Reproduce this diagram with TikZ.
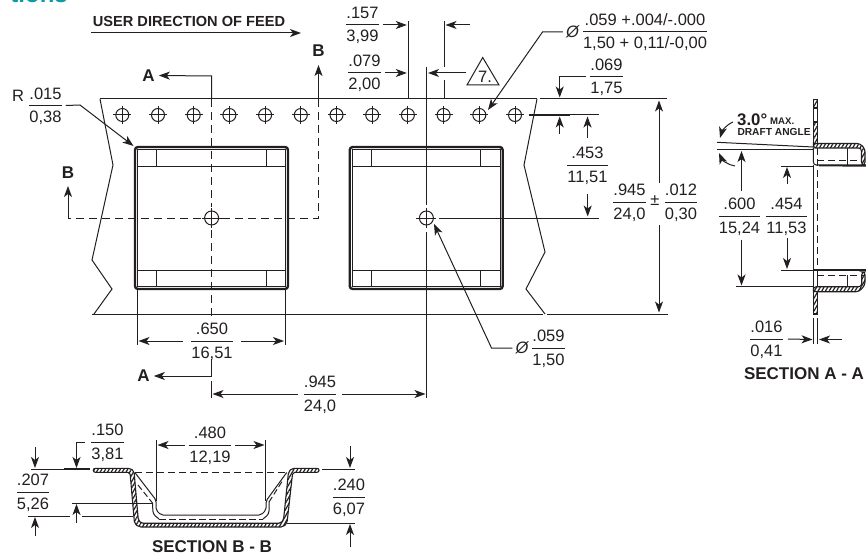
\documentclass[tikz,border=0pt]{standalone}
\usepackage{fontspec}
\setmainfont{Liberation Sans}
\usetikzlibrary{arrows.meta, patterns.meta}

\definecolor{inkline}{HTML}{231F20}
\definecolor{headteal}{HTML}{0E9AA7}
\setlength{\arrayrulewidth}{1pt}
\newcommand{\dimfrac}[2]{\begin{tabular}{@{}c@{}}\rule{0pt}{16.5pt}#1\\\hline\rule{0pt}{16.5pt}#2\end{tabular}}

\tikzset{
    dimtext/.style={inner sep=0pt, text=inkline, font=\fontsize{16.5}{19}\selectfont},
    boldtext/.style={inner sep=0pt, text=inkline, font=\fontsize{17}{19}\selectfont\bfseries},
    thinline/.style={draw=inkline, line width=1pt},
    heavyline/.style={draw=inkline, line width=2.4pt},
    dimarrow/.style={thinline, -{Stealth[length=11pt,width=8pt,inset=3pt]}},
    cutline/.style={thinline, dash pattern=on 8pt off 5pt},
    hatchwall/.style={draw=inkline, line width=1.1pt, pattern={Lines[angle=60,distance=3.2pt,line width=1.2pt]}, pattern color=inkline}
}

\begin{document}
\begin{tikzpicture}[x=1pt,y=-1pt]
    \useasboundingbox (0,0) rectangle (866,556);

    % clipped heading
    \begin{scope}
        \clip (0,0) rectangle (90,4);
        \node [anchor=base east, inner sep=0pt, text=headteal, font=\fontsize{24}{28}\selectfont\bfseries] (headfrag) at (68,3) {tions};
    \end{scope}

    % feed direction
    \node [boldtext, font=\fontsize{14.6}{18}\selectfont\bfseries] (feedtext) at (189,21) {USER DIRECTION OF FEED};
    \coordinate (feedL) at (91,33);
    \coordinate (feedR) at (301,33);
    \draw [dimarrow] (feedL) -- (feedR);

    % tape outline
    \draw [thinline] (92,314) -- (543,314);
    \draw [thinline] (100,99) -- (537,99);
    \draw [thinline] (100,99) -- (113,165) -- (92,260) -- (112,289) -- (94,314);
    \draw [thinline] (537,99) -- (524,165) -- (545,252) -- (526,289) -- (545,314);
    \draw [thinline] (540,99) -- (667,99);
    \draw [thinline] (547,314) -- (668,314);
    \draw [thinline] (570,115) -- (599,115);
    \draw [draw=inkline, line width=1.8pt] (529,115) -- (570,115);

    % sprocket holes
    \foreach \i in {0,...,11} {
        \draw [thinline] ({122.3+35.7*\i},115) circle (6.5pt);
        \draw [thinline] ({122.3+35.7*\i-9},115) -- ({122.3+35.7*\i+9},115);
        \draw [thinline] ({122.3+35.7*\i},106) -- ({122.3+35.7*\i},124);
    }

    % pockets
    \foreach \dx in {0,214.7} {
        \draw [heavyline, rounded corners=3pt] ({135+\dx},147) rectangle ({288+\dx},289);
        \draw [thinline] ({137.5+\dx},149.5) rectangle ({285.5+\dx},286.5);
        \draw [thinline] ({137.5+\dx},166) -- ({285.5+\dx},166);
        \draw [thinline] ({137.5+\dx},270) -- ({285.5+\dx},270);
        \draw [thinline] ({156.7+\dx},149.5) -- ({156.7+\dx},166);
        \draw [thinline] ({266+\dx},149.5) -- ({266+\dx},166);
        \draw [thinline] ({156.7+\dx},270) -- ({156.7+\dx},286.5);
        \draw [thinline] ({266+\dx},270) -- ({266+\dx},286.5);
    }

    % center holes
    \foreach \cx in {211.6,426.4} {
        \draw [thinline] (\cx,218) circle (7pt);
        \draw [thinline] ({\cx-10},218) -- ({\cx+10},218);
        \draw [thinline] (\cx,208) -- (\cx,228);
    }

    % section A cut
    \node [boldtext] (cutAup) at (148.5,75.5) {A};
    \node [boldtext] (cutAdn) at (143.5,376) {A};
    \coordinate (cutAtop) at (211.6,76);
    \coordinate (cutAbot) at (211.6,376);
    \draw [dimarrow] (211.6,99) -- (cutAtop) -- ([xshift=4pt]cutAup.east);
    \draw [cutline] (211.6,99) -- (211.6,207);
    \draw [cutline] (211.6,230) -- (211.6,321);
    \draw [dimarrow] (211.6,359) -- (cutAbot) -- ([xshift=4pt]cutAdn.east);
    \draw [thinline] (211.6,381) -- (211.6,398);

    % section B cut
    \node [boldtext] (cutBup) at (318.5,50.5) {B};
    \node [boldtext] (cutBlf) at (68,172.5) {B};
    \coordinate (cutBtip) at (318.5,65);
    \coordinate (cutBtipL) at (68,186);
    \coordinate (cutBcorner) at (68,218);
    \draw [dimarrow] (318.5,99) -- (cutBtip);
    \draw [cutline] (318.5,99) -- (318.5,218) -- (221,218);
    \draw [cutline] (201,218) -- (cutBcorner);
    \draw [dimarrow] (cutBcorner) -- (cutBtipL);

    % centerline
    \draw [thinline] (426.4,67) -- (426.4,205);
    \draw [thinline] (426.4,232) -- (426.4,398);
    \draw [thinline] (439,218) -- (599,218);

    % top dimensions
    \node [dimtext] (l157) at (362.5,25) {\dimfrac{.157}{3,99}};
    \node [dimtext] (l079) at (364.5,73) {\dimfrac{.079}{2,00}};
    \coordinate (e157) at (406.8,25);
    \coordinate (e157R) at (445.5,25);
    \coordinate (s157R) at (470,25);
    \coordinate (e079) at (406.8,73);
    \coordinate (e079R) at (428,73);
    \draw [thinline] (408,21) -- (408,99);
    \draw [thinline] (444,21) -- (444,67);
    \draw [thinline] (444,80) -- (444,99);
    \draw [dimarrow] ([xshift=4pt]l157.east) -- (e157);
    \draw [dimarrow] (s157R) -- (e157R);
    \draw [dimarrow] ([xshift=4pt]l079.east) -- (e079);

    % note triangle
    \coordinate (triT) at (482.7,57.5);
    \coordinate (triL) at (467,85);
    \coordinate (triR) at (499,85);
    \coordinate (triS) at (466,73);
    \draw [thinline] (triT) -- (triL) -- (triR) -- cycle;
    \node [dimtext] (noteseven) at (485,76.5) {7.};
    \draw [dimarrow] (triS) -- (e079R);

    % hole diameter
    \node [dimtext] (phiTop) at (572.5,32) {\itshape Ø};
    \node [dimtext] (lHole) at (645,32) {\dimfrac{.059 +.004/-.000}{1,50 + 0,11/-0,00}};
    \coordinate (holeBend) at (542.5,32);
    \coordinate (holeTip) at (488,110);
    \draw [dimarrow] ([xshift=-3pt]phiTop.west) -- (holeBend) -- (holeTip);

    % row dimensions
    \node [dimtext] (l069) at (606.5,77) {\dimfrac{.069}{1,75}};
    \node [dimtext] (l453) at (587.5,165) {\dimfrac{.453}{11,51}};
    \coordinate (b069) at (559.7,77);
    \coordinate (t069) at (559.7,97.5);
    \coordinate (s069u) at (559.7,134);
    \coordinate (t069u) at (559.7,116.5);
    \coordinate (s453u) at (587.5,138);
    \coordinate (t453u) at (587.5,116.5);
    \coordinate (s453d) at (587.7,194);
    \coordinate (t453d) at (587.7,216.5);
    \draw [dimarrow] ([xshift=-4pt]l069.west) -- (b069) -- (t069);
    \draw [dimarrow] (s069u) -- (t069u);
    \draw [dimarrow] (s453u) -- (t453u);
    \draw [dimarrow] (s453d) -- (t453d);

    % tape width
    \node [dimtext] (l945w) at (629.5,202) {\dimfrac{.945}{24,0}};
    \node [dimtext] (lpm) at (655,201) {±};
    \node [dimtext] (l012) at (681,202) {\dimfrac{.012}{0,30}};
    \coordinate (s945u) at (659,183);
    \coordinate (t945u) at (659,100.5);
    \coordinate (s945d) at (659,225);
    \coordinate (t945d) at (659,312.5);
    \draw [dimarrow] (s945u) -- (t945u);
    \draw [dimarrow] (s945d) -- (t945d);

    % corner radius
    \node [dimtext] (lR) at (18,95.5) {R};
    \node [dimtext] (l015) at (45.5,105.5) {\dimfrac{.015}{0,38}};
    \coordinate (rBend) at (80,105);
    \coordinate (rTip) at (133.5,146);
    \draw [dimarrow] ([xshift=4pt]l015.east) -- (rBend) -- (rTip);

    % pocket width
    \node [dimtext] (l650) at (212,341) {\dimfrac{.650}{16,51}};
    \coordinate (e650L) at (138.5,341);
    \coordinate (e650R) at (284,341);
    \draw [thinline] (137.5,289) -- (137.5,345);
    \draw [thinline] (285,289) -- (285,345);
    \draw [dimarrow] ([xshift=-8pt]l650.west) -- (e650L);
    \draw [dimarrow] ([xshift=8pt]l650.east) -- (e650R);

    % pocket pitch
    \node [dimtext] (l945p) at (320,394) {\dimfrac{.945}{24,0}};
    \coordinate (e945L) at (212.5,394);
    \coordinate (e945R) at (425.5,394);
    \draw [dimarrow] ([xshift=-6pt]l945p.west) -- (e945L);
    \draw [dimarrow] ([xshift=6pt]l945p.east) -- (e945R);

    % center hole diameter
    \node [dimtext] (phiCen) at (522,348) {\itshape Ø};
    \node [dimtext] (l059) at (548.5,348) {\dimfrac{.059}{1,50}};
    \coordinate (cenBend) at (491.5,348);
    \coordinate (cenTip) at (434,224);
    \draw [dimarrow] ([xshift=-3pt]phiCen.west) -- (cenBend) -- (cenTip);

    % section A-A
    \draw [hatchwall] (813.3,99.3) rectangle (817.3,108);
    \draw [thinline] (813.3,108) -- (813.3,122);
    \draw [thinline] (817.3,108) -- (817.3,122);
    \draw [hatchwall] (813.3,122) rectangle (817.3,143.5);
    \draw [hatchwall, rounded corners=3pt] (813.3,143.5) -- (860,143.5) -- (865,149) -- (865,165) -- (861.5,165) -- (861.5,148) -- (817.3,148) -- (813.3,148) -- cycle;
    \draw [thinline, rounded corners=3pt] (813.3,148) -- (813.3,165) -- (866,165);
    \draw [draw=inkline, line width=1.5pt] (819,165.5) -- (866,166);
    \draw [thinline] (847.7,148) -- (847.7,165);
    \draw [thinline, dash pattern=on 7pt off 4pt] (817.3,148) -- (817.3,270);
    \draw [thinline, dash pattern=on 7pt off 4pt] (817.3,160.7) -- (862,160.7);
    \draw [thinline] (813.3,165) -- (813.3,270);
    \draw [draw=inkline, line width=1.5pt] (813.3,270) -- (866,270);
    \draw [thinline, dash pattern=on 7pt off 4pt] (817.3,275) -- (865,275);
    \draw [thinline] (813.3,270) -- (813.3,290);
    \draw [thinline] (817.3,270) -- (817.3,287);
    \draw [thinline] (847.7,275) -- (847.7,287);
    \draw [hatchwall, rounded corners=3pt] (813.3,286.7) -- (861.7,286.7) -- (861.7,272) -- (865,272) -- (865,285) -- (859,291.7) -- (813.3,291.7) -- cycle;
    \draw [hatchwall] (813.3,291.7) rectangle (817.3,314);
    \draw [thinline] (717,142.3) -- (813.3,147);
    \draw [thinline] (717,150) -- (813.3,150);
    \draw [thinline] (736,286.5) -- (813.3,286.5);
    \draw [thinline] (781,166) -- (813.3,166);
    \draw [thinline] (781,270) -- (813.3,270);

    \node [boldtext, anchor=base west, font=\fontsize{16.8}{19}\selectfont\bfseries] (draftval) at (737,126) {3.0°};
    \node [boldtext, anchor=base west, font=\fontsize{9.6}{11}\selectfont\bfseries] (draftmax) at (770,125) {MAX.};
    \node [boldtext, anchor=base west, font=\fontsize{10.2}{12}\selectfont\bfseries] (draftname) at (737.3,136) {DRAFT ANGLE};
    \coordinate (draftS1) at (733,122);
    \coordinate (draftT1) at (720,138);
    \coordinate (draftS2) at (735,166);
    \coordinate (draftT2) at (719,153);
    \draw [dimarrow] (draftS1) .. controls (726,125) and (722,131) .. (draftT1);
    \draw [dimarrow] (draftS2) .. controls (728,165) and (722,160) .. (draftT2);

    \node [dimtext] (l600) at (739.5,216) {\dimfrac{.600}{15,24}};
    \node [dimtext] (l454) at (786.5,216) {\dimfrac{.454}{11,53}};
    \coordinate (s600u) at (741.5,191);
    \coordinate (t600u) at (741.5,151);
    \coordinate (s600d) at (741.5,240);
    \coordinate (t600d) at (741.5,285.5);
    \coordinate (s454u) at (787,184);
    \coordinate (t454u) at (787,167);
    \coordinate (s454d) at (787,238);
    \coordinate (t454d) at (787,269);
    \draw [dimarrow] (s600u) -- (t600u);
    \draw [dimarrow] (s600d) -- (t600d);
    \draw [dimarrow] (s454u) -- (t454u);
    \draw [dimarrow] (s454d) -- (t454d);

    \node [dimtext] (l016) at (766.5,339) {\dimfrac{.016}{0,41}};
    \coordinate (e016L) at (812.5,339.5);
    \coordinate (e016R) at (819,339.5);
    \coordinate (s016R) at (842,339.5);
    \draw [thinline] (813.7,318) -- (813.7,344);
    \draw [thinline] (817.7,318) -- (817.7,344);
    \draw [dimarrow] ([xshift=5pt]l016.east) -- (e016L);
    \draw [dimarrow] (s016R) -- (e016R);
    \node [boldtext] (sectionAA) at (804,374) {SECTION A - A};

    % section B-B
    \draw [thinline, dash pattern=on 7pt off 4pt] (135,472.5) -- (288,472.5);
    \draw [thinline, rounded corners=2pt] (135,472.7) -- (156,500) -- (156,510) -- (161,515) -- (261,515) -- (266,510) -- (266,501) -- (286.7,472.5);
    \draw [thinline, dash pattern=on 6pt off 3pt] (138,485) -- (152.5,503);
    \draw [thinline, rounded corners=3pt] (152.5,503) -- (153,514) -- (159,519);
    \draw [thinline, dash pattern=on 7pt off 3pt] (159,519.3) -- (263,519.3);
    \draw [thinline, rounded corners=3pt] (263,519) -- (269,514) -- (269,502);
    \draw [thinline, dash pattern=on 6pt off 3pt] (269,502) -- (283,480);
    \draw [hatchwall, rounded corners=2pt] (93.3,468.3) -- (130,468.3) -- (134,471) -- (138.3,520) -- (141,523.2) -- (281,523.2) -- (283.5,520) -- (288.5,472) -- (292,468.3) -- (319,468.3) -- (319,472.3) -- (292.7,472.3) -- (287,523) -- (283,527) -- (139,527) -- (134.5,523.5) -- (130,472.3) -- (93.3,472.3) -- cycle;

    \draw [draw=inkline, line width=1.8pt] (64,469) -- (90,469);
    \draw [thinline] (31,469) -- (64,469);
    \draw [thinline] (322,469) -- (355,469);
    \draw [thinline] (287,523) -- (355,523);
    \draw [thinline] (28,516) -- (70,516);
    \draw [thinline] (82,516) -- (133,516);
    \draw [thinline] (72,503) -- (152,503);
    \draw [thinline] (156.5,440) -- (156.5,501);
    \draw [thinline] (265.7,440) -- (265.7,501);

    \node [dimtext] (l150) at (107.5,442) {\dimfrac{.150}{3,81}};
    \node [dimtext] (l207) at (33,492) {\dimfrac{.207}{5,26}};
    \node [dimtext] (l480) at (210,445) {\dimfrac{.480}{12,19}};
    \node [dimtext] (l240) at (349,497) {\dimfrac{.240}{6,07}};
    \coordinate (s207u) at (35,447);
    \coordinate (t207u) at (35,468);
    \coordinate (s207d) at (35,536);
    \coordinate (t207d) at (35,517);
    \coordinate (b150) at (76.5,442);
    \coordinate (t150) at (76.5,468);
    \coordinate (s150d) at (76.5,523);
    \coordinate (t150d) at (76.5,504);
    \coordinate (s240u) at (350,446);
    \coordinate (t240u) at (350,468);
    \coordinate (s240d) at (350,547);
    \coordinate (t240d) at (350,524);
    \coordinate (e480L) at (157.5,445);
    \coordinate (e480R) at (264.5,445);
    \draw [dimarrow] (s207u) -- (t207u);
    \draw [dimarrow] (s207d) -- (t207d);
    \draw [dimarrow] ([xshift=-6pt]l150.west) -- (b150) -- (t150);
    \draw [dimarrow] (s150d) -- (t150d);
    \draw [dimarrow] (s240u) -- (t240u);
    \draw [dimarrow] (s240d) -- (t240d);
    \draw [dimarrow] ([xshift=-4pt]l480.west) -- (e480L);
    \draw [dimarrow] ([xshift=4pt]l480.east) -- (e480R);
    \node [boldtext] (sectionBB) at (212,547) {SECTION B - B};
\end{tikzpicture}
\end{document}
